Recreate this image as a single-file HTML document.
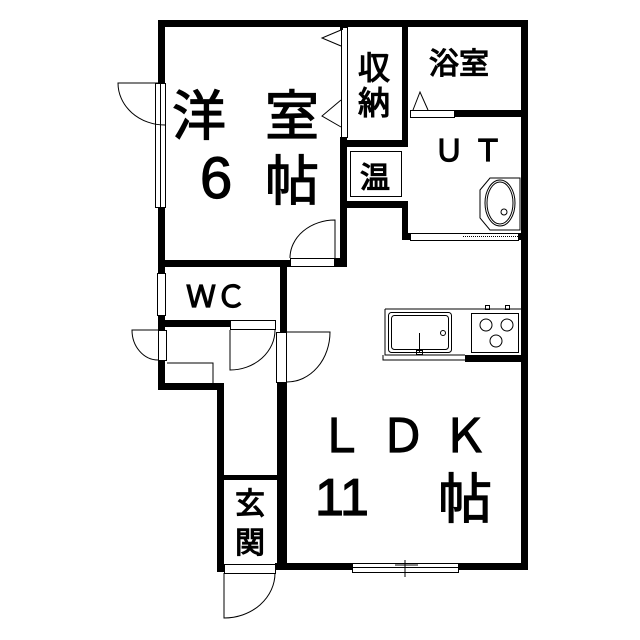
<!DOCTYPE html>
<html><head><meta charset="utf-8"><style>html,body{margin:0;padding:0;background:#fff}svg{display:block}</style></head>
<body>
<svg width="640" height="640" viewBox="0 0 640 640" xmlns="http://www.w3.org/2000/svg" font-family="'Liberation Sans','Noto Sans CJK JP',sans-serif">
<rect width="640" height="640" fill="#fff"/>
<g fill="#000">
<rect x="158" y="20" width="370" height="7"/>
<rect x="521" y="20" width="7" height="550"/>
<rect x="158" y="20" width="7" height="63"/>
<rect x="158" y="207" width="7" height="66"/>
<rect x="158" y="315" width="7" height="15"/>
<rect x="158" y="360" width="7" height="30"/>
<rect x="158" y="383" width="66" height="7"/>
<rect x="217" y="383" width="7" height="189"/>
<rect x="158" y="260" width="132" height="7"/>
<rect x="335" y="258" width="12" height="9"/>
<rect x="340" y="137" width="7" height="130"/>
<rect x="340" y="20" width="3" height="10"/>
<rect x="402" y="20" width="6" height="127"/>
<rect x="340" y="140" width="68" height="7"/>
<rect x="340" y="201" width="68" height="7"/>
<rect x="402" y="201" width="6" height="39"/>
<rect x="455" y="110" width="73" height="7"/>
<rect x="280" y="260" width="7" height="72"/>
<rect x="158" y="320" width="72" height="7"/>
<rect x="277" y="382" width="10" height="188"/>
<rect x="222" y="475" width="58" height="5"/>
<rect x="217" y="564" width="7" height="8"/>
<rect x="275" y="563" width="77" height="7"/>
<rect x="458" y="563" width="70" height="7"/>
<rect x="465" y="355" width="63" height="7"/>
<rect x="402" y="233" width="8" height="7"/>
<rect x="518" y="233" width="10" height="7"/>
</g>
<g fill="none" stroke="#000" stroke-width="1">
<rect x="155.5" y="83.5" width="10" height="124"/>
<line x1="160.5" y1="83" x2="160.5" y2="207"/>
<path d="M165 83 L118 83 A47 42 0 0 0 165 125"/>
<rect x="341.5" y="27.5" width="6" height="110"/>
<path d="M341 30 L322 38 L341 46"/>
<path d="M341 100 L322 116 L341 127"/>
<rect x="350.5" y="151.5" width="51" height="45"/>
<rect x="410.5" y="110.5" width="44" height="7"/>
<path d="M413 110 L420 92 L428 110"/>
<rect x="410.5" y="233.5" width="108" height="7"/>
<line x1="463" y1="236.5" x2="518" y2="236.5" stroke-dasharray="1 1"/>
<path d="M480 190 L490 178 L520 178 L520 230 L490 230 L480 218 Z"/>
<ellipse cx="500" cy="203" rx="15" ry="23"/>
<ellipse cx="500" cy="203" rx="13" ry="21"/>
<circle cx="504" cy="212" r="3"/>
<rect x="290.5" y="258.5" width="44" height="8"/>
<path d="M290 258 A45 38 0 0 1 335 220 L335 258"/>
<rect x="157.5" y="273.5" width="8" height="42"/>
<rect x="230.5" y="320.5" width="45" height="9"/>
<path d="M230 330 L230 370 A45 40 0 0 0 275 330"/>
<rect x="276.5" y="332.5" width="10" height="50"/>
<path d="M287 332 L330 332 A43 50 0 0 1 287 382"/>
<rect x="158.5" y="330.5" width="8" height="30"/>
<path d="M158 330 L132 330 A26 30 0 0 0 158 360"/>
<path d="M167 363 L213 363 L213 383"/>
<line x1="222" y1="480" x2="222" y2="565"/>
<rect x="224.5" y="564.5" width="51" height="9"/>
<path d="M224 573 L224 618 A51 45 0 0 0 275 573"/>
<rect x="352.5" y="563.5" width="106" height="9"/>
<line x1="352" y1="567.5" x2="458" y2="567.5"/>
<line x1="395" y1="565" x2="418" y2="565"/>
<line x1="405" y1="560" x2="405" y2="577"/>
<path d="M385 309 L522 309 M385 309 L385 355 L465 355"/>
<path d="M383 355 L383 360 L465 360"/>
<rect x="388.5" y="312.5" width="63" height="40" rx="3"/>
<rect x="391.5" y="315.5" width="57" height="34" rx="3"/>
<line x1="419.5" y1="333" x2="419.5" y2="353"/>
<rect x="416.5" y="350.5" width="6" height="4"/>
<circle cx="443" cy="333" r="2.5"/>
<rect x="471.5" y="313.5" width="47" height="39"/>
<rect x="485.5" y="305.5" width="4" height="4"/>
<rect x="505.5" y="305.5" width="4" height="4"/>
<circle cx="486" cy="325" r="6"/>
<circle cx="507" cy="325" r="6"/>
<circle cx="496" cy="341" r="6"/>
</g>
<g fill="#000" stroke="#000" stroke-width="1.2">
<text x="172" y="135" font-size="54">洋</text>
<text x="265" y="135" font-size="54">室</text>
<text x="200" y="198" font-size="58">6</text>
<text x="265" y="200" font-size="54">帖</text>
<text x="358" y="79" font-size="32">収</text>
<text x="358" y="114" font-size="32">納</text>
<text x="429" y="74" font-size="30">浴室</text>
<text x="434" y="161" font-size="30">Ｕ</text>
<text x="473" y="161" font-size="30">Ｔ</text>
<text x="360" y="188" font-size="30">温</text>
<text x="186" y="307" font-size="30">ＷＣ</text>
<text x="318" y="452" font-size="46">Ｌ</text>
<text x="380" y="452" font-size="46">Ｄ</text>
<text x="442" y="452" font-size="46">Ｋ</text>
<text x="315" y="515" font-size="52">11</text>
<text x="438" y="518" font-size="54">帖</text>
<text x="235" y="514" font-size="30">玄</text>
<text x="235" y="553" font-size="30">関</text>
</g>
</svg>
</body></html>
